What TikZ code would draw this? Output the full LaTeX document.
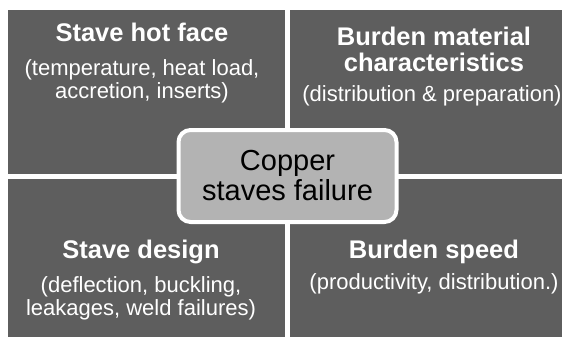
\documentclass[tikz,border=0pt]{standalone}
\usepackage{fontspec}
\setmainfont{Liberation Sans}
\usetikzlibrary{positioning}
\definecolor{qgray}{HTML}{5E5E5E}
\definecolor{cgray}{HTML}{B3B3B3}
\tikzset{quad/.style = {fill=qgray}}
\tikzset{heading/.style = {text=white, align=center, anchor=base, inner sep=0pt,
                           font=\bfseries\fontsize{25.5}{26}\selectfont}}
\tikzset{detail/.style = {text=white, align=center, anchor=base, inner sep=0pt,
                          font=\fontsize{22}{23}\selectfont}}
\tikzset{core/.style = {draw=white, line width=4pt, fill=cgray, rounded corners=12pt,
                        minimum width=218pt, minimum height=92pt, align=center,
                        text=black, font=\fontsize{29}{30}\selectfont}}

\begin{document}
\begin{tikzpicture}[x=1pt, y=-1pt]
      \useasboundingbox (0,0) rectangle (562,337);
      \fill [quad] (8,10) rectangle (285,174);
      \fill [quad] (290,10) rectangle (562,174);
      \fill [quad] (8,179) rectangle (285,337);
      \fill [quad] (290,179) rectangle (562,337);
      % base anchor sits on the last line
      \node [heading] (hotface) at (142,42) {Stave hot face};
      \node [detail] (hotfacetxt) at (142,99) {(temperature, heat load,\\accretion, inserts)};
      \node [heading] (burden) at (434,71) {Burden material\\characteristics};
      \node [detail] (burdentxt) at (432,101) {(distribution \& preparation)};
      \node [heading] (design) at (141,258) {Stave design};
      \node [detail] (designtxt) at (141,315) {(deflection, buckling,\\leakages, weld failures)};
      \node [heading] (speed) at (434,258) {Burden speed};
      \node [detail] (speedtxt) at (434,289) {(productivity, distribution.)};
      \node [core] (failure) at (287.5,176) {Copper\\staves failure};
    \end{tikzpicture}
\end{document}
